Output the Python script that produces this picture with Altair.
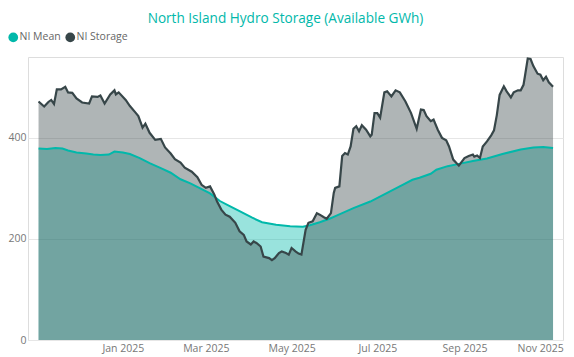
import altair as alt
import pandas as pd

# ---- data ----
storage_dates = [
    "2024-11-02", "2024-11-06", "2024-11-09", "2024-11-11", "2024-11-13", "2024-11-15",
    "2024-11-18", "2024-11-21", "2024-11-23", "2024-11-26", "2024-11-29", "2024-12-03",
    "2024-12-08", "2024-12-10", "2024-12-14", "2024-12-16", "2024-12-19", "2024-12-23",
    "2024-12-26", "2024-12-27", "2024-12-29", "2025-01-03", "2025-01-06", "2025-01-10",
    "2025-01-12", "2025-01-15", "2025-01-17", "2025-01-20", "2025-01-24", "2025-01-28",
    "2025-01-31", "2025-02-04", "2025-02-07", "2025-02-11", "2025-02-14", "2025-02-19",
    "2025-02-23", "2025-02-26", "2025-03-01", "2025-03-04", "2025-03-07", "2025-03-09",
    "2025-03-12", "2025-03-15", "2025-03-18", "2025-03-22", "2025-03-25", "2025-03-28",
    "2025-03-30", "2025-04-02", "2025-04-04", "2025-04-06", "2025-04-09", "2025-04-11",
    "2025-04-15", "2025-04-17", "2025-04-19", "2025-04-22", "2025-04-24", "2025-04-27",
    "2025-04-29", "2025-05-01", "2025-05-04", "2025-05-06", "2025-05-08", "2025-05-11",
    "2025-05-13", "2025-05-16", "2025-05-19", "2025-05-21", "2025-05-24", "2025-05-26",
    "2025-05-29", "2025-05-31", "2025-06-01", "2025-06-04", "2025-06-06", "2025-06-08",
    "2025-06-10", "2025-06-12", "2025-06-14", "2025-06-16", "2025-06-18", "2025-06-20",
    "2025-06-23", "2025-06-26", "2025-06-27", "2025-06-29", "2025-07-01", "2025-07-03",
    "2025-07-06", "2025-07-08", "2025-07-11", "2025-07-14", "2025-07-17", "2025-07-21",
    "2025-07-25", "2025-07-29", "2025-08-01", "2025-08-03", "2025-08-05", "2025-08-08",
    "2025-08-10", "2025-08-13", "2025-08-16", "2025-08-19", "2025-08-21", "2025-08-24",
    "2025-08-28", "2025-09-01", "2025-09-04", "2025-09-07", "2025-09-08", "2025-09-10",
    "2025-09-12", "2025-09-14", "2025-09-17", "2025-09-20", "2025-09-22", "2025-09-24",
    "2025-09-26", "2025-09-29", "2025-10-01", "2025-10-04", "2025-10-06", "2025-10-09",
    "2025-10-11", "2025-10-13", "2025-10-14", "2025-10-16", "2025-10-18", "2025-10-20",
    "2025-10-23", "2025-10-25", "2025-10-27", "2025-10-29", "2025-10-31", "2025-11-03",
]
storage_values = [
    472, 462, 471, 475, 467, 496,
    496, 501, 490, 489, 478, 470,
    468, 482, 481, 484, 468, 486,
    494, 486, 490, 475, 463, 450,
    443, 420, 428, 410, 396, 398,
    381, 369, 358, 351, 341, 333,
    322, 307, 301, 304, 288, 274,
    258, 248, 244, 232, 215, 208,
    195, 189, 195, 192, 185, 165,
    162, 158, 162, 172, 175, 172,
    169, 182, 175, 171, 169, 218,
    232, 235, 251, 248, 243, 240,
    251, 291, 301, 304, 364, 370,
    367, 383, 418, 423, 413, 425,
    416, 403, 406, 449, 449, 440,
    490, 492, 482, 494, 490, 472,
    449, 418, 456, 455, 443, 433,
    436, 416, 400, 395, 383, 357,
    345, 360, 364, 367, 363, 365,
    360, 383, 393, 405, 415, 445,
    485, 502, 492, 480, 490, 494,
    494, 505, 522, 557, 556, 542,
    527, 525, 514, 521, 510, 501,
]

mean_dates = [
    "2024-11-02", "2024-11-08", "2024-11-14", "2024-11-19", "2024-11-23", "2024-11-29",
    "2024-12-06", "2024-12-11", "2024-12-16", "2024-12-22", "2024-12-26", "2025-01-01",
    "2025-01-06", "2025-01-13", "2025-01-20", "2025-01-28", "2025-02-04", "2025-02-11",
    "2025-02-18", "2025-02-25", "2025-03-04", "2025-03-11", "2025-03-18", "2025-03-25",
    "2025-04-03", "2025-04-10", "2025-04-20", "2025-04-30", "2025-05-09", "2025-05-14",
    "2025-05-21", "2025-05-28", "2025-06-02", "2025-06-14", "2025-06-26", "2025-07-08",
    "2025-07-19", "2025-07-26", "2025-07-31", "2025-08-08", "2025-08-12", "2025-08-20",
    "2025-08-29", "2025-09-07", "2025-09-17", "2025-09-28", "2025-10-11", "2025-10-20",
    "2025-10-27", "2025-11-03",
]
mean_values = [
    379, 378, 380, 379, 375, 371,
    369, 367, 366, 367, 373, 371,
    368, 360, 350, 340, 331, 318,
    310, 300, 290, 275, 265, 255,
    242, 233, 228, 225, 224, 227,
    233, 240, 246, 261, 274, 291,
    307, 317, 321, 329, 337, 344,
    349, 354, 359, 368, 377, 381,
    382, 380,
]

series_names = ["NI Mean", "NI Storage"]
series_colors = ["#01B8AA", "#374649"]
tick_dates = [(2025, 1), (2025, 3), (2025, 5), (2025, 7), (2025, 9), (2025, 11)]
y_ticks = [0, 200, 400]

df = pd.concat([
    pd.DataFrame({"date": mean_dates, "value": mean_values, "series": series_names[0]}),
    pd.DataFrame({"date": storage_dates, "value": storage_values, "series": series_names[1]}),
], ignore_index=True)

FONT = "Open Sans"

x_enc = alt.X(
    "date:T",
    scale=alt.Scale(
        type="utc",
        domain=[
            alt.DateTime(year=2024, month=10, date=25, hours=12, utc=True),
            alt.DateTime(year=2025, month=11, date=10, hours=2, utc=True),
        ],
    ),
    axis=alt.Axis(
        values=[alt.DateTime(year=y, month=m, date=1, utc=True) for y, m in tick_dates],
        format="%b %Y",
        title=None,
        grid=False,
        domain=False,
        ticks=False,
        labelFlush=False,
        labelColor="#777777",
        labelFontSize=10.5,
        labelFont=FONT,
        labelPadding=3,
        labelOffset={"condition": {"test": "datum.index == 1", "value": -10}, "value": 0},
    ),
)
y_enc = alt.Y(
    "value:Q",
    scale=alt.Scale(domain=[0, 560], nice=False),
    axis=alt.Axis(
        values=y_ticks,
        title=None,
        domain=False,
        ticks=False,
        gridColor="#e6e6e6",
        labelColor="#777777",
        labelFontSize=10.5,
        labelFont=FONT,
        labelPadding=2,
    ),
)
color_scale = alt.Scale(domain=series_names, range=series_colors)

base = alt.Chart(df)

mean_area = base.transform_filter(alt.datum.series == series_names[0]).mark_area(
    fillOpacity=0.4
).encode(
    x=x_enc, y=y_enc,
    color=alt.Color(
        "series:N", scale=color_scale,
        legend=alt.Legend(
            orient="none", legendX=-20, legendY=-25, direction="horizontal",
            title=None, symbolType="circle", symbolSize=95, symbolOpacity=1,
            symbolStrokeWidth=0, labelFontSize=10.5, labelColor="#666666",
            labelFont=FONT, columnPadding=4, labelOffset=1,
        ),
    ),
)
storage_area = base.transform_filter(alt.datum.series == series_names[1]).mark_area(
    fillOpacity=0.4
).encode(x=x_enc, y=y_enc, color=alt.Color("series:N", scale=color_scale))

mean_line = base.transform_filter(alt.datum.series == series_names[0]).mark_line(
    strokeWidth=2
).encode(x=x_enc, y=y_enc, color=alt.Color("series:N", scale=color_scale))
storage_line = base.transform_filter(alt.datum.series == series_names[1]).mark_line(
    strokeWidth=2.2
).encode(x=x_enc, y=y_enc, color=alt.Color("series:N", scale=color_scale))

chart = alt.layer(mean_area, storage_area, mean_line, storage_line).properties(
    width=535,
    height=283,
    padding={"left": 20, "top": 49, "right": 3, "bottom": 17},
    autosize=alt.AutoSizeParams(type="none"),
    title=alt.TitleParams(
        "North Island Hydro Storage (Available GWh)",
        anchor="middle",
        frame="group",
        color="#01B8AA",
        font=FONT,
        fontSize=13.6,
        fontWeight="normal",
        dx=-10,
        dy=-3,
        offset=3,
    ),
).configure_view(stroke=None).configure(background="white")

chart.save("out.html", embed_options={"renderer": "svg", "actions": False})
